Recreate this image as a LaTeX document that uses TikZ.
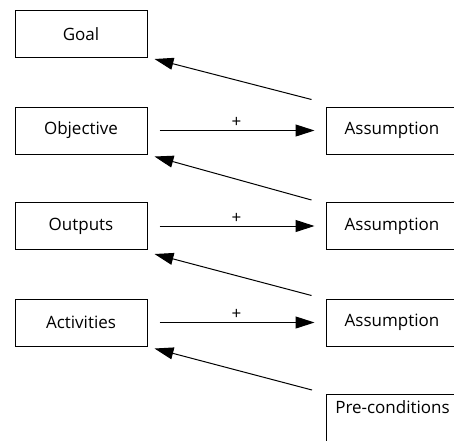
\documentclass[tikz,border=0pt]{standalone}
\usepackage{fontspec}
\setmainfont{Open Sans}
\usetikzlibrary{arrows.meta}
\tikzset{
  box/.style={draw, line width=1pt, minimum width=132pt, minimum height=47pt,
    inner sep=0pt, font=\fontsize{17}{20}\selectfont},
  arr/.style={line width=1pt, -{Triangle[length=19pt,width=12pt]}},
}
\begin{document}
\begin{tikzpicture}[x=1pt,y=-1pt]
  \useasboundingbox (0,0) rectangle (454,440);
  \clip (0,0) rectangle (454,440);
  % left column
  \node[box] (goal) at (81,34) {Goal};
  \node[box] (obj)  at (81,130.5) {Objective};
  \node[box] (out)  at (81,226) {Outputs};
  \node[box] (act)  at (81,322.5) {Activities};
  % right column
  \node[box] (as1) at (392,130.5) {Assumption};
  \node[box] (as2) at (392,226) {Assumption};
  \node[box] (as3) at (392,322.5) {Assumption};
  \node[box, anchor=north west, minimum height=0pt, inner ysep=6pt,
        text height=13pt, text depth=36pt] (pre) at (326,394) {Pre-conditions};
  % horizontal links
  \foreach \a/\b in {obj/as1, out/as2, act/as3}
    \draw[arr, shorten <=12pt, shorten >=11pt] (\a) -- node[above=-1pt, font=\fontsize{17}{20}\selectfont] {+} (\b);
  % diagonal links
  \draw[arr] ([shift={(-14,-7)}]as1.north west) -- ([shift={(7,1)}]goal.south east);
  \draw[arr] ([shift={(-14,-2)}]as2.north west) -- ([shift={(7,2)}]obj.south east);
  \draw[arr] ([shift={(-14,-3)}]as3.north west) -- ([shift={(7,4)}]out.south east);
  \draw[arr] ([shift={(-14,-4)}]pre.north west) -- ([shift={(7,2)}]act.south east);
\end{tikzpicture}
\end{document}
